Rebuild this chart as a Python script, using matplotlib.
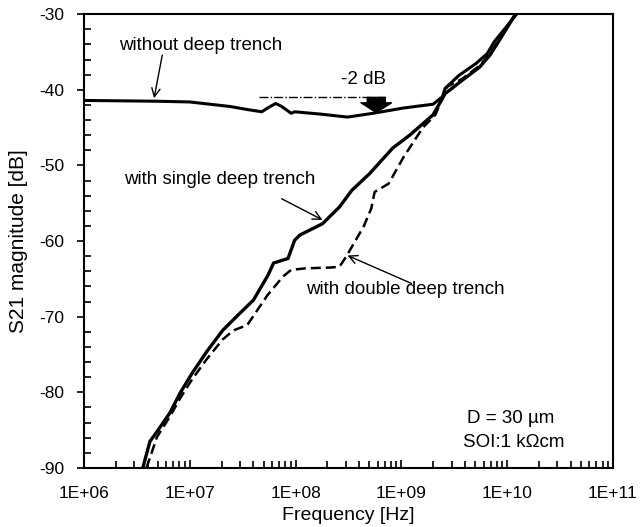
import numpy as np
import matplotlib
matplotlib.use('Agg')
import matplotlib.pyplot as plt
from matplotlib.ticker import LogLocator, MultipleLocator, FixedLocator, FixedFormatter

plt.rcParams['font.family'] = ['Liberation Sans', 'DejaVu Sans']
plt.rcParams['axes.unicode_minus'] = False

# without deep trench
f_none = [1.0e6, 4.7e6, 1.0e7, 2.4e7, 3.5e7, 4.8e7, 5.6e7, 6.5e7, 7.4e7, 9.1e7, 9.8e7,
          1.7e8, 3.1e8, 5.4e8, 1.05e9, 2.0e9, 2.45e9, 2.6e9, 3.5e9, 5.1e9, 6.5e9,
          7.6e9, 9.8e9, 1.23e10]
s_none = [-41.4, -41.5, -41.6, -42.2, -42.6, -42.9, -42.3, -41.8, -42.2, -43.1, -42.9,
          -43.2, -43.6, -43.1, -42.4, -41.9, -40.9, -39.8, -38.1, -36.5, -35.2,
          -33.6, -31.7, -30.0]

# with single deep trench
f_single = [3.6e6, 4.2e6, 4.9e6, 6.5e6, 8.1e6, 1.05e7, 1.45e7, 2.05e7, 2.95e7, 4.0e7,
            5.5e7, 6.2e7, 8.5e7, 9.8e7, 1.1e8, 1.8e8, 2.6e8, 3.4e8, 5.0e8, 8.3e8,
            1.2e9, 2.0e9, 2.6e9, 3.8e9, 5.5e9, 6.9e9, 8.5e9, 1.2e10]
s_single = [-90.0, -86.5, -85.2, -82.7, -80.1, -77.5, -74.6, -71.8, -69.6, -67.8,
            -64.5, -62.9, -62.3, -59.9, -59.2, -57.7, -55.5, -53.3, -51.1, -47.7,
            -46.0, -43.3, -40.5, -38.7, -37.0, -35.4, -33.4, -30.0]

# with double deep trench
f_double = [3.9e6, 4.9e6, 6.5e6, 8.1e6, 1.05e7, 1.45e7, 2.05e7, 2.6e7, 3.5e7, 5.4e7,
            7.6e7, 9.1e7, 1.25e8, 2.1e8, 2.6e8, 3.0e8, 4.4e8, 5.2e8, 5.6e8, 7.6e8,
            1.05e9, 1.6e9, 2.1e9, 2.4e9, 2.7e9, 3.8e9, 5.5e9, 6.9e9, 8.5e9, 1.2e10]
s_double = [-90.0, -85.9, -83.2, -80.8, -78.3, -75.6, -73.0, -71.8, -71.1, -67.2,
            -64.7, -63.8, -63.6, -63.5, -63.4, -62.1, -58.1, -55.7, -53.5, -52.4,
            -48.9, -45.0, -43.3, -41.4, -39.6, -38.5, -36.8, -35.2, -33.2, -30.0]

xticks = [1e6, 1e7, 1e8, 1e9, 1e10, 1e11]
xtick_labels = ['1E+06', '1E+07', '1E+08', '1E+09', '1E+10', '1E+11']

fig = plt.figure(figsize=(6.41, 5.27), dpi=100)
ax = fig.add_axes([0.131, 0.112, 0.825, 0.861])

ax.plot(f_none, s_none, color='black', lw=2.2)
ax.plot(f_single, s_single, color='black', lw=2.4)
ax.plot(f_double, s_double, color='black', lw=1.8, dashes=(4, 2))

ax.set_xscale('log')
ax.set_xlim(1e6, 1e11)
ax.set_ylim(-90, -30)

ax.xaxis.set_major_locator(FixedLocator(xticks))
ax.xaxis.set_major_formatter(FixedFormatter(xtick_labels))
ax.xaxis.set_minor_locator(LogLocator(base=10, subs=np.arange(2, 10), numticks=20))
ax.xaxis.set_minor_formatter(FixedFormatter([]))
ax.yaxis.set_major_locator(MultipleLocator(10))
ax.yaxis.set_minor_locator(MultipleLocator(2))

ax.tick_params(axis='both', which='major', labelsize=12.5, direction='in', length=6, width=1.2)
ax.tick_params(axis='y', which='major', direction='out', length=5, pad=9)
ax.tick_params(axis='both', which='minor', direction='in', length=5, width=1.2)
ax.tick_params(axis='x', which='major', pad=13)
ax.tick_params(top=False, right=False, which='both')
for sp in ax.spines.values():
    sp.set_linewidth(1.5)

ax.set_xlabel('Frequency [Hz]', fontsize=14, labelpad=4)
ax.set_ylabel('S21 magnitude [dB]', fontsize=15, labelpad=8)

fs = 13.5
ax.text(2.15e6, -34.2, 'without deep trench', fontsize=fs, va='center', ha='left')
ax.annotate('', xy=(4.6e6, -41.1), xytext=(5.5e6, -35.4),
            arrowprops=dict(arrowstyle='->', color='black', lw=1, shrinkA=0, shrinkB=0,
                            mutation_scale=15))
ax.text(2.4e6, -51.9, 'with single deep trench', fontsize=fs, va='center', ha='left')
ax.annotate('', xy=(1.8e8, -57.2), xytext=(7.4e7, -54.4),
            arrowprops=dict(arrowstyle='->', color='black', lw=1, shrinkA=0, shrinkB=0,
                            mutation_scale=15))
ax.text(1.25e8, -66.4, 'with double deep trench', fontsize=fs, va='center', ha='left')
ax.annotate('', xy=(3.1e8, -61.9), xytext=(1.25e9, -65.6),
            arrowprops=dict(arrowstyle='->', color='black', lw=1, shrinkA=0, shrinkB=0,
                            mutation_scale=15))

# -2 dB marker
ax.plot([4.5e7, 7.2e8], [-41.0, -41.0], color='black', lw=1, linestyle='-.')
ax.text(4.4e8, -38.6, '-2 dB', fontsize=fs, ha='center', va='center')
ax.annotate('', xy=(5.8e8, -43.0), xytext=(5.8e8, -41.0),
            arrowprops=dict(arrowstyle='simple,head_length=0.35,head_width=1.1,tail_width=0.65',
                            color='black', shrinkA=0, shrinkB=0, mutation_scale=20))

ax.text(4.2e9, -83.4, 'D = 30 µm', fontsize=13.5, ha='left', va='center')
ax.text(3.8e9, -86.6, 'SOI:1 kΩcm', fontsize=13.5, ha='left', va='center')

fig.savefig('out.png', dpi=100)
